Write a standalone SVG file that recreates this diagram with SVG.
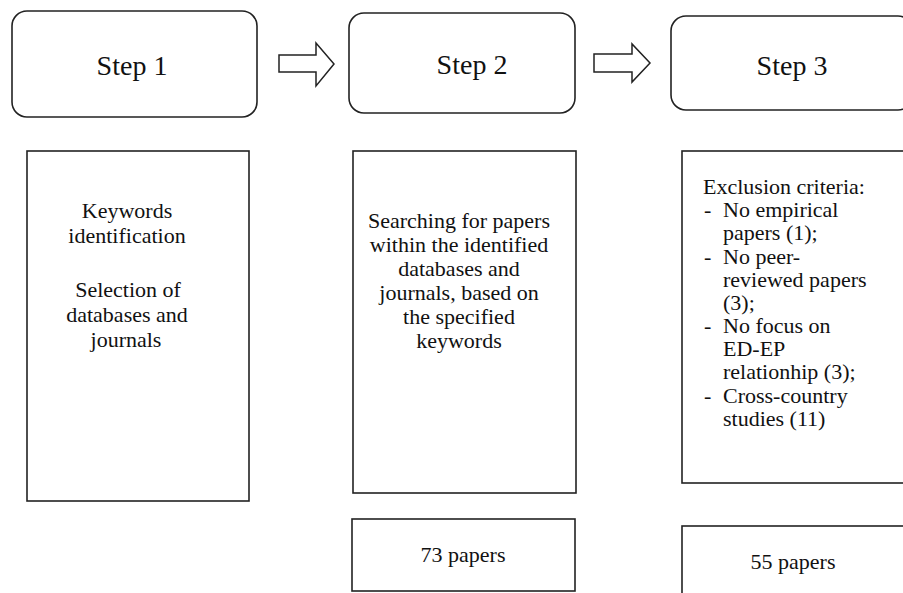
<svg xmlns="http://www.w3.org/2000/svg" width="903" height="593" viewBox="0 0 903 593">
<style>
.box{fill:#fff;stroke:#222;stroke-width:1.6}
.arrow{fill:#fff;stroke:#222;stroke-width:1.5;stroke-linejoin:miter}
.t{font-family:"Liberation Serif","Times New Roman",serif;fill:#111;font-size:22px}
.h{font-family:"Liberation Serif","Times New Roman",serif;fill:#111;font-size:28px;text-anchor:middle}
.c{text-anchor:middle}
</style>
<rect width="903" height="593" fill="#fff"/>
<g id="step1">
<rect class="box" x="12" y="11" width="245" height="106" rx="15"/>
<text class="h" x="132" y="75">Step 1</text>
</g>
<g id="step2">
<rect class="box" x="349" y="13" width="226" height="100" rx="15"/>
<text class="h" x="472" y="74">Step 2</text>
</g>
<g id="step3">
<rect class="box" x="671" y="16" width="242" height="94" rx="15"/>
<text class="h" x="792" y="75">Step 3</text>
</g>
<g id="box1">
<rect class="box" x="27" y="151" width="222" height="350"/>
<text class="t c" x="127" y="218">Keywords</text>
<text class="t c" x="127" y="243">identification</text>
<text class="t c" x="128" y="297">Selection of</text>
<text class="t c" x="127" y="322">databases and</text>
<text class="t c" x="126" y="347">journals</text>
</g>
<g id="box2">
<rect class="box" x="353" y="151" width="223" height="342"/>
<text class="t c" x="459" y="228">Searching for papers</text>
<text class="t c" x="459" y="252">within the identified</text>
<text class="t c" x="459" y="276">databases and</text>
<text class="t c" x="459" y="300">journals, based on</text>
<text class="t c" x="459" y="324">the specified</text>
<text class="t c" x="459" y="348">keywords</text>
</g>
<g id="box3">
<rect class="box" x="682" y="151" width="226" height="332"/>
<text class="t" x="703" y="194">Exclusion criteria:</text>
<text class="t" x="704" y="217">-</text><text class="t" x="723" y="217">No empirical</text>
<text class="t" x="723" y="240">papers (1);</text>
<text class="t" x="704" y="264">-</text><text class="t" x="723" y="264">No peer-</text>
<text class="t" x="723" y="287">reviewed papers</text>
<text class="t" x="723" y="310">(3);</text>
<text class="t" x="704" y="333">-</text><text class="t" x="723" y="333">No focus on</text>
<text class="t" x="723" y="356">ED-EP</text>
<text class="t" x="723" y="379">relationhip (3);</text>
<text class="t" x="704" y="403">-</text><text class="t" x="723" y="403">Cross-country</text>
<text class="t" x="723" y="426">studies (11)</text>
</g>
<g id="count2">
<rect class="box" x="352" y="519" width="223" height="72"/>
<text class="t c" x="463" y="562">73 papers</text>
</g>
<g id="count3">
<rect class="box" x="682" y="526" width="226" height="80"/>
<text class="t c" x="793" y="569">55 papers</text>
</g>
<g id="connectors">
<polygon class="arrow" points="279,55 316,55 316,43 334,64 316,86 316,72 279,72"/>
<polygon class="arrow" points="594,54 632,54 632,44 650,63 632,82 632,72 594,72"/>
</g>
</svg>
